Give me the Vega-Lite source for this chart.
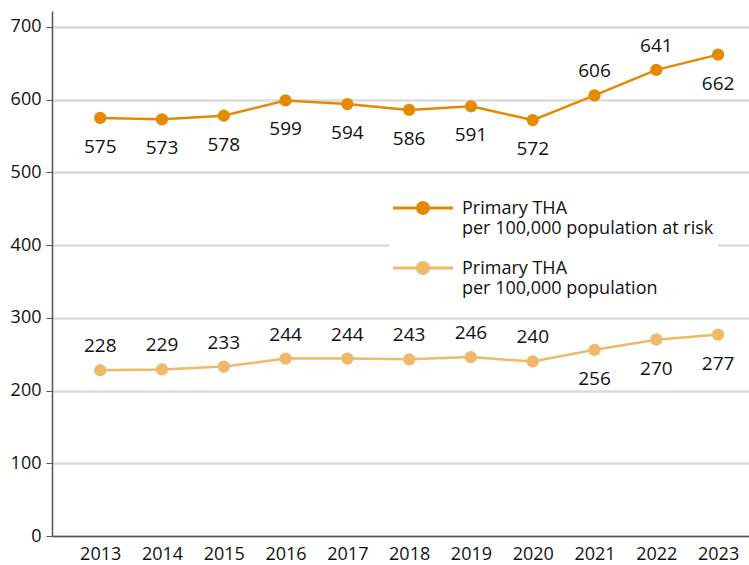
{
  "$schema": "https://vega.github.io/schema/vega-lite/v6.json",
  "width": 749,
  "height": 565,
  "autosize": {"type": "fit", "contains": "padding"},
  "padding": {"left": 10, "top": 11, "right": 0, "bottom": 2},
  "background": "white",
  "config": {
    "font": "Open Sans",
    "view": {"stroke": null},
    "axis": {"labelFont": "Open Sans", "labelFontSize": 18, "labelColor": "#111111"}
  },
  "data": {
    "values": [
      {"year": 2013, "series": "at risk", "value": 575},
      {"year": 2014, "series": "at risk", "value": 573},
      {"year": 2015, "series": "at risk", "value": 578},
      {"year": 2016, "series": "at risk", "value": 599},
      {"year": 2017, "series": "at risk", "value": 594},
      {"year": 2018, "series": "at risk", "value": 586},
      {"year": 2019, "series": "at risk", "value": 591},
      {"year": 2020, "series": "at risk", "value": 572},
      {"year": 2021, "series": "at risk", "value": 606},
      {"year": 2022, "series": "at risk", "value": 641},
      {"year": 2023, "series": "at risk", "value": 662},
      {"year": 2013, "series": "population", "value": 228},
      {"year": 2014, "series": "population", "value": 229},
      {"year": 2015, "series": "population", "value": 233},
      {"year": 2016, "series": "population", "value": 244},
      {"year": 2017, "series": "population", "value": 244},
      {"year": 2018, "series": "population", "value": 243},
      {"year": 2019, "series": "population", "value": 246},
      {"year": 2020, "series": "population", "value": 240},
      {"year": 2021, "series": "population", "value": 256},
      {"year": 2022, "series": "population", "value": 270},
      {"year": 2023, "series": "population", "value": 277}
    ]
  },
  "encoding": {
    "x": {
      "field": "year", "type": "quantitative",
      "scale": {"domain": [2012.22, 2023.5], "nice": false, "zero": false},
      "axis": {
        "title": null, "values": [2013, 2014, 2015, 2016, 2017, 2018, 2019, 2020, 2021, 2022, 2023],
        "format": "d", "grid": false, "ticks": false, "labelPadding": 9,
        "domainColor": "#555555", "domainWidth": 1.5, "labelFlush": false
      }
    },
    "y": {
      "field": "value", "type": "quantitative",
      "scale": {"domain": [0, 722], "nice": false},
      "axis": {
        "title": null, "values": [0, 100, 200, 300, 400, 500, 600, 700],
        "grid": true, "gridColor": "#dcdcdc", "gridWidth": 2.5,
        "tickColor": "#555555", "tickSize": 6, "labelPadding": 5,
        "domainColor": "#555555", "domainWidth": 1.5
      }
    },
    "color": {
      "field": "series", "type": "nominal",
      "scale": {"domain": ["at risk", "population"], "range": ["#E38A00", "#F0B86A"]},
      "legend": {
        "title": null, "orient": "none", "legendX": 337, "legendY": 163,
        "fillColor": "white", "padding": 4,
        "labelExpr": "datum.value == 'at risk' ? ['Primary THA', 'per 100,000 population at risk'] : ['Primary THA', 'per 100,000 population']",
        "labelFont": "Open Sans", "labelFontSize": 18, "labelLineHeight": 22, "labelColor": "#111111",
        "labelBaseline": "alphabetic", "labelOffset": 9, "labelLimit": 400,
        "symbolType": "M -1 -0.05 L 1 -0.05 L 1 0.05 L -1 0.05 Z M -0.23 0 A 0.23 0.23 0 1 1 0.23 0 A 0.23 0.23 0 1 1 -0.23 0 Z",
        "symbolSize": 3600, "symbolStrokeWidth": 0, "rowPadding": -2,
        "encode": {
          "symbols": {"update": {"fill": {"scale": "color", "field": "value"}, "strokeWidth": {"value": 0}}},
          "labels": {"update": {"dy": {"value": 6}}}
        }
      }
    }
  },
  "layer": [
    {"mark": {"type": "line", "strokeWidth": 2.5}},
    {"mark": {"type": "point", "filled": true, "size": 150, "opacity": 1}},
    {
      "transform": [{"filter": "(datum.series == 'at risk' && datum.year >= 2021 && datum.year <= 2022) || (datum.series == 'population' && datum.year <= 2020)"}],
      "mark": {"type": "text", "fontSize": 19, "font": "Open Sans", "baseline": "middle", "dy": -24},
      "encoding": {"text": {"field": "value", "type": "quantitative"}, "color": {"value": "#111111"}}
    },
    {
      "transform": [{"filter": "!((datum.series == 'at risk' && datum.year >= 2021 && datum.year <= 2022) || (datum.series == 'population' && datum.year <= 2020))"}],
      "mark": {"type": "text", "fontSize": 19, "font": "Open Sans", "baseline": "middle", "dy": 29},
      "encoding": {"text": {"field": "value", "type": "quantitative"}, "color": {"value": "#111111"}}
    }
  ]
}
